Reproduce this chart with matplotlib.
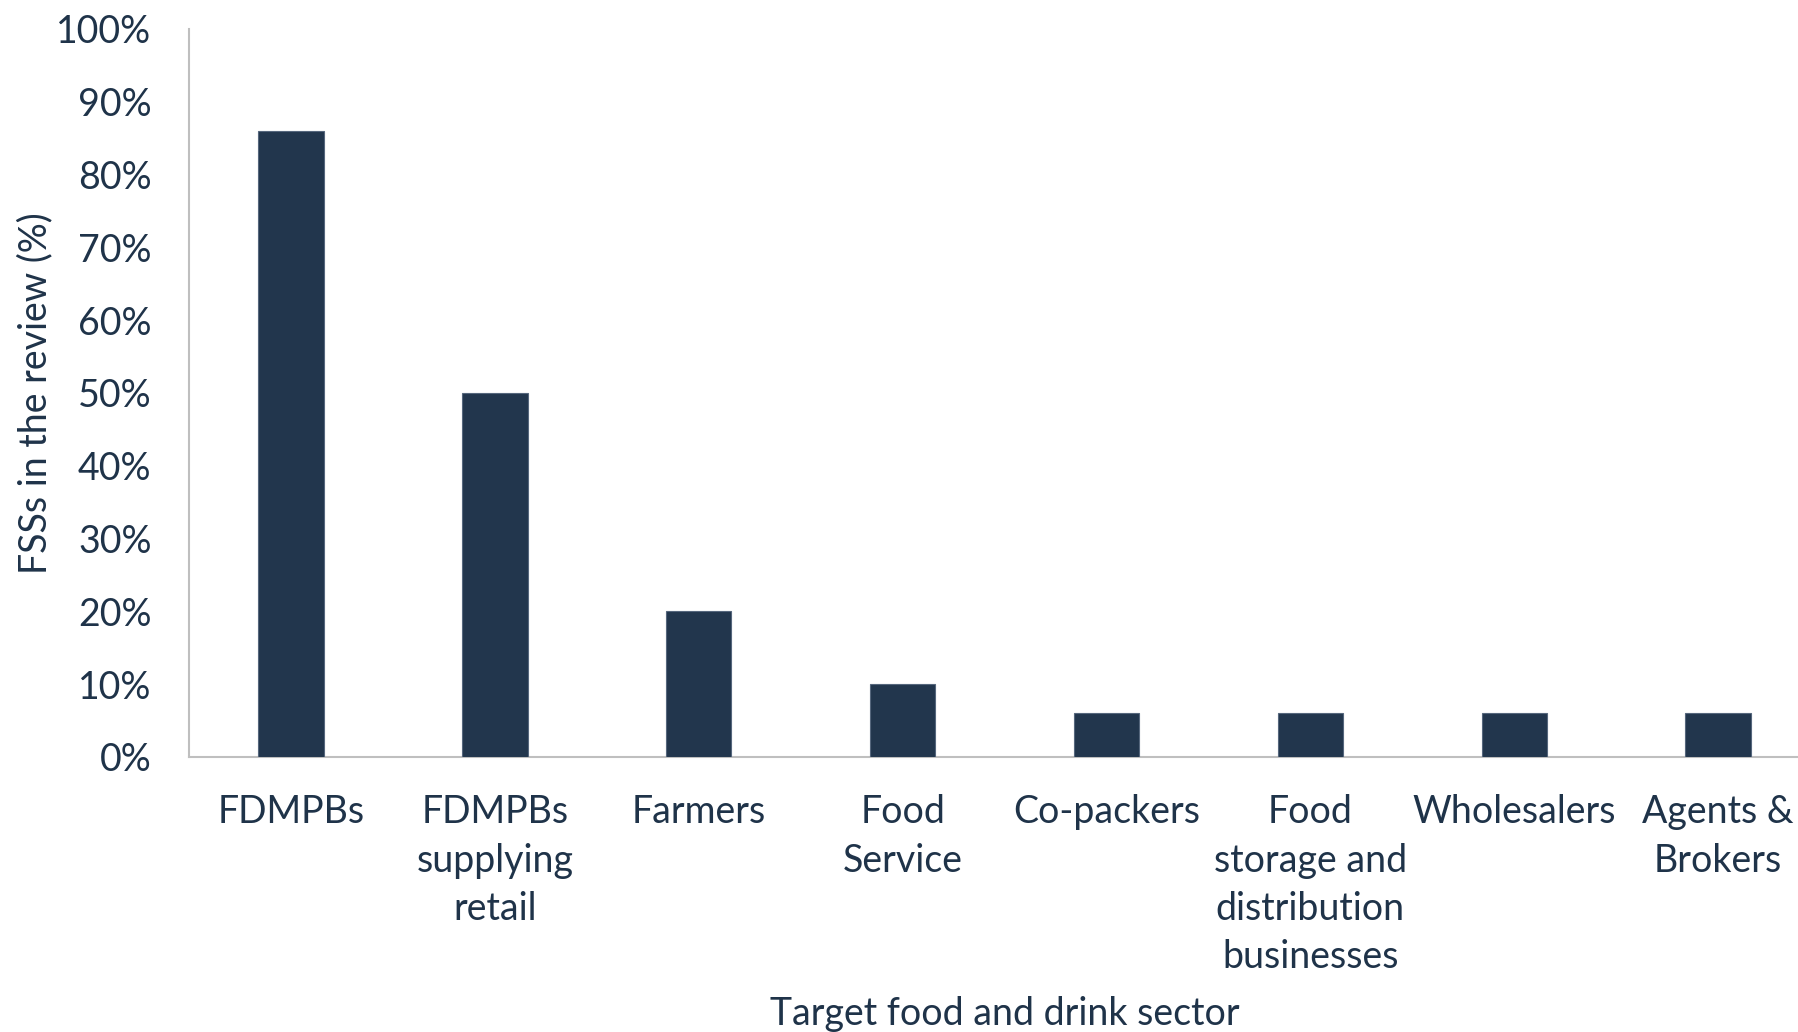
import matplotlib
matplotlib.use("Agg")
import matplotlib.pyplot as plt
from matplotlib.ticker import FuncFormatter

categories = ["FDMPBs", "FDMPBs\nsupplying\nretail", "Farmers", "Food\nService",
              "Co-packers", "Food\nstorage and\ndistribution\nbusinesses",
              "Wholesalers", "Agents &\nBrokers"]
values = [86, 50, 20, 10, 6, 6, 6, 6]
yticks = [0, 10, 20, 30, 40, 50, 60, 70, 80, 90, 100]

text_color = "#1F3349"
bar_color = "#22364D"

plt.rcParams['font.family'] = ['Lato', 'DejaVu Sans']

fig = plt.figure(figsize=(17.99, 10.32), dpi=100)
ax = fig.add_axes([0.1051, 0.2665, 0.9066, 0.7057])

x = list(range(len(categories)))
ax.bar(x, values, width=0.32, color=bar_color, edgecolor="#56677d", linewidth=0.8, zorder=3)

ax.set_xlim(-0.5, len(categories) - 0.5)
ax.set_ylim(0, 100)
ax.set_yticks(yticks)
ax.yaxis.set_major_formatter(FuncFormatter(lambda v, p: f"{int(v)}%"))
ax.set_xticks(x)
ax.set_xticklabels(categories, linespacing=1.42)

for s in ["top", "right"]:
    ax.spines[s].set_visible(False)
for s in ["left", "bottom"]:
    ax.spines[s].set_color("#BFBFBF")
    ax.spines[s].set_linewidth(1.5)

ax.tick_params(axis="y", length=0, pad=27, labelsize=27, labelcolor=text_color)
ax.tick_params(axis="x", length=0, pad=27, labelsize=27, labelcolor=text_color)

ax.set_ylabel("FSSs in the review (%)", fontsize=27, color=text_color)
ax.set_xlabel("Target food and drink sector", fontsize=27, color=text_color, labelpad=15)
ax.yaxis.set_label_coords(-0.083, 0.5)

fig.savefig("out.png", dpi=100)
